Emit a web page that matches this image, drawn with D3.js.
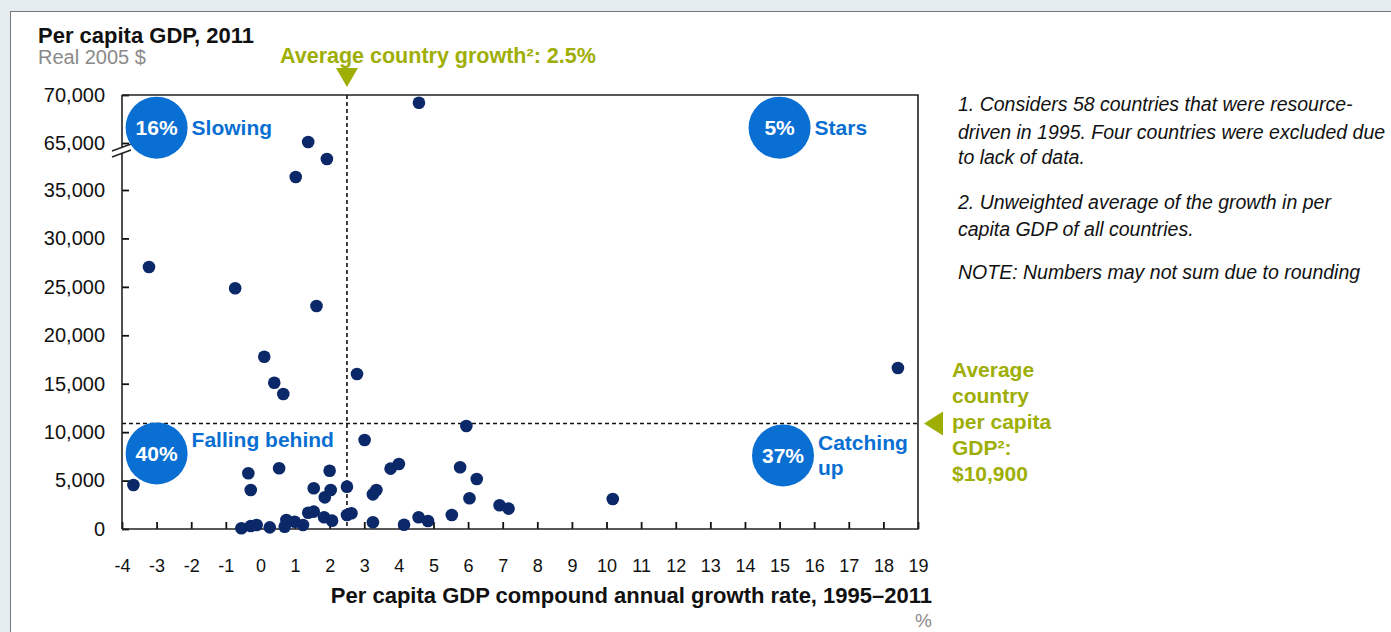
<!DOCTYPE html>
<html>
  <head>
    <meta charset="utf-8" />
    <title>Per capita GDP vs growth</title>
    <script src="https://d3js.org/d3.v7.min.js"></script>
    <style>
      body {
        margin: 0;
        background: #e4ecf0;
      }
      text {
        font-family: "Liberation Sans", Arial, sans-serif;
      }
      .note {
        font-style: italic;
      }
    </style>
  </head>
  <body>

    <svg id="viz"></svg>

    <script>

      // growth rate 1995-2011 (%), per capita GDP 2011 (real 2005 $)
      var growth = [
        4.58, 1.38, 1.92, 1.02, -3.22, -0.73, 1.62, 0.11, 2.79, 0.40, 0.66, 18.42,
        5.95, 3.01, 3.76, 4.00, 5.77, 6.25, 2.50, 3.25, 3.35, 6.04, 10.18, 6.91,
        7.17, 2.50, 2.63, 3.25, 4.15, 4.57, 4.84, 5.53,
        -3.67, -0.35, -0.28, 0.54, 2.00, 1.54, 2.03, 1.86, 1.38, 1.54, 1.84, 2.07,
        -0.55, -0.28, -0.11, 0.27, 0.75, 0.99, 0.70, 1.23
      ];
      var gdp = [
        69200, 65100, 54800, 43300, 27050, 24850, 23020, 17790, 16000, 15100, 13940, 16620,
        10630, 9190, 6230, 6710, 6370, 5160, 4370, 3580, 4030, 3170, 3100, 2450,
        2100, 1450, 1620, 690, 440, 1210, 830, 1450,
        4540, 5750, 4030, 6270, 6020, 4200, 4030, 3270, 1680, 1790, 1210, 860,
        70, 310, 410, 170, 930, 750, 240, 410
      ];

      var xTicks = d3.range(-4, 20);
      var yTicks = [0, 5000, 10000, 15000, 20000, 25000, 30000, 35000, 65000, 70000];

      var avgGrowth = 2.5;
      var avgGdp = 10900;

      var quadPct = ["16%", "5%", "40%", "37%"];
      var quadLabel = [["Slowing"], ["Stars"], ["Falling behind"], ["Catching", "up"]];
      var quadX = [-3, 15, -3, 15.1];
      var quadY = [66600, 66600, 7800, 7600];

      var notes = [
        "1. Considers 58 countries that were resource-",
        "driven in 1995. Four countries were excluded due",
        "to lack of data.",
        "2. Unweighted average of the growth in per",
        "capita GDP of all countries.",
        "NOTE: Numbers may not sum due to rounding"
      ];
      var noteY = [105, 133, 158, 203, 230, 273];

      var avgGdpLines = ["Average", "country", "per capita", "GDP²:", "$10,900"];

      var width = 1391;
      var height = 632;
      var olive = "#9eae05";
      var blue = "#0a6fd2";
      var navy = "#0b2868";

      var svg = d3.select("#viz")
        .attr("width", width)
        .attr("height", height);

      // white panel
      svg.append("rect")
        .attr("x", 10.5)
        .attr("y", 11.5)
        .attr("width", width)
        .attr("height", height)
        .attr("fill", "white")
        .attr("stroke", "#777")
        .attr("stroke-width", 1);

      var plotL = 122, plotR = 918, plotT = 95, plotB = 529;

      var x = d3.scaleLinear()
        .domain([-4, 19])
        .range([plotL, plotR]);

      // broken axis: 35,000 jumps to 65,000 over one step
      var y = d3.scaleLinear()
        .domain([0, 35000, 65000, 70000])
        .range([plotB, 190, 143, plotT]);

      var g = svg.append("g");

      // axes
      var xAxis = d3.axisBottom(x)
        .tickValues(xTicks)
        .tickSizeInner(-7)
        .tickSizeOuter(0)
        .tickPadding(30)
        .tickFormat(function(d) { return String(d); });

      var gx = g.append("g")
        .attr("transform", "translate(0," + plotB + ")")
        .call(xAxis);
      gx.select(".domain").remove();
      gx.selectAll("line").attr("stroke", "#111").attr("stroke-width", 1.8);
      gx.selectAll("text")
        .attr("font-size", 18)
        .attr("fill", "#111");

      var yAxis = d3.axisLeft(y)
        .tickValues(yTicks)
        .tickSizeInner(-7)
        .tickSizeOuter(0)
        .tickPadding(17)
        .tickFormat(d3.format(","));

      var gy = g.append("g")
        .attr("transform", "translate(" + plotL + ",0)")
        .call(yAxis);
      gy.select(".domain").remove();
      gy.selectAll("line").attr("stroke", "#111").attr("stroke-width", 1.8);
      gy.selectAll("text")
        .attr("font-size", 20)
        .attr("fill", "#111");

      // frame
      g.append("path")
        .attr("d", "M" + plotL + "," + plotT + "H" + plotR + "V" + plotB + "H" + plotL)
        .attr("fill", "none")
        .attr("stroke", "#222")
        .attr("stroke-width", 1.6);

      // left axis with break
      g.append("line")
        .attr("x1", plotL).attr("x2", plotL)
        .attr("y1", plotT).attr("y2", 147)
        .attr("stroke", "#222").attr("stroke-width", 1.6);
      g.append("line")
        .attr("x1", plotL).attr("x2", plotL)
        .attr("y1", 153).attr("y2", plotB)
        .attr("stroke", "#222").attr("stroke-width", 1.6);
      [0, 6].forEach(function(off) {
        g.append("line")
          .attr("x1", 112).attr("y1", 151 + off)
          .attr("x2", 131).attr("y2", 144 + off)
          .attr("stroke", "#222").attr("stroke-width", 1.5);
      });

      // average lines
      g.append("line")
        .attr("x1", x(avgGrowth)).attr("x2", x(avgGrowth))
        .attr("y1", plotT).attr("y2", plotB)
        .attr("stroke", "#111").attr("stroke-width", 1.6)
        .attr("stroke-dasharray", "4,3");
      g.append("line")
        .attr("x1", plotL).attr("x2", plotR)
        .attr("y1", y(avgGdp)).attr("y2", y(avgGdp))
        .attr("stroke", "#111").attr("stroke-width", 1.6)
        .attr("stroke-dasharray", "4,3");

      // markers
      var ax = x(avgGrowth);
      g.append("path")
        .attr("d", "M" + (ax - 11) + ",68L" + (ax + 11) + ",68L" + ax + ",87Z")
        .attr("fill", olive);
      var ay = y(avgGdp);
      g.append("path")
        .attr("d", "M924," + ay + "L943," + (ay - 12) + "L943," + (ay + 12) + "Z")
        .attr("fill", olive);

      // points
      var points = growth.map(function(d, i) {
        return {g: d, v: gdp[i]};
      });
      g.selectAll("circle.dot")
        .data(points)
        .enter().append("circle")
        .attr("class", "dot")
        .attr("cx", function(d) { return x(d.g); })
        .attr("cy", function(d) { return y(d.v); })
        .attr("r", 6.3)
        .attr("fill", navy);

      // quadrant badges
      var quads = quadPct.map(function(p, i) {
        return {pct: p, label: quadLabel[i], cx: x(quadX[i]), cy: y(quadY[i])};
      });
      var qg = g.selectAll("g.quad")
        .data(quads)
        .enter().append("g")
        .attr("class", "quad");
      qg.append("circle")
        .attr("cx", function(d) { return d.cx; })
        .attr("cy", function(d) { return d.cy; })
        .attr("r", 31)
        .attr("fill", blue);
      qg.append("text")
        .attr("x", function(d) { return d.cx; })
        .attr("y", function(d) { return d.cy; })
        .attr("dy", "0.36em")
        .attr("text-anchor", "middle")
        .attr("fill", "white")
        .attr("font-weight", "bold")
        .attr("font-size", 21)
        .text(function(d) { return d.pct; });
      qg.each(function(d, i) {
        var n = d.label.length;
        var baseY = i === 2 ? d.cy - 14 : d.cy - (n - 1) * 12.5;
        d3.select(this).selectAll("text.lab")
          .data(d.label)
          .enter().append("text")
          .attr("class", "lab")
          .attr("x", d.cx + 35)
          .attr("y", function(t, j) { return baseY + j * 25; })
          .attr("dy", "0.36em")
          .attr("fill", blue)
          .attr("font-weight", "bold")
          .attr("font-size", 21)
          .text(function(t) { return t; });
      });

      // titles
      svg.append("text")
        .attr("x", 38).attr("y", 43)
        .attr("font-weight", "bold")
        .attr("font-size", 22)
        .attr("fill", "#111")
        .text("Per capita GDP, 2011");
      svg.append("text")
        .attr("x", 38).attr("y", 64)
        .attr("font-size", 20)
        .attr("fill", "#8a8a8a")
        .text("Real 2005 $");
      svg.append("text")
        .attr("x", 280).attr("y", 63)
        .attr("font-weight", "bold")
        .attr("font-size", 21.5)
        .attr("fill", olive)
        .text("Average country growth²: 2.5%");

      svg.append("text")
        .attr("x", 932).attr("y", 603)
        .attr("text-anchor", "end")
        .attr("font-weight", "bold")
        .attr("font-size", 22)
        .attr("fill", "#111")
        .text("Per capita GDP compound annual growth rate, 1995–2011");
      svg.append("text")
        .attr("x", 932).attr("y", 627)
        .attr("text-anchor", "end")
        .attr("font-size", 19)
        .attr("fill", "#8a8a8a")
        .text("%");

      // average GDP label
      svg.selectAll("text.avg")
        .data(avgGdpLines)
        .enter().append("text")
        .attr("class", "avg")
        .attr("x", 952)
        .attr("y", function(d, i) { return 377 + i * 26; })
        .attr("font-weight", "bold")
        .attr("font-size", 21)
        .attr("fill", olive)
        .text(function(d) { return d; });

      // notes
      svg.selectAll("text.note")
        .data(notes)
        .enter().append("text")
        .attr("class", "note")
        .attr("x", 958)
        .attr("y", function(d, i) { return noteY[i] + 6; })
        .attr("font-size", 19.5)
        .attr("fill", "#111")
        .text(function(d) { return d; });

    </script>
  </body>
</html>
